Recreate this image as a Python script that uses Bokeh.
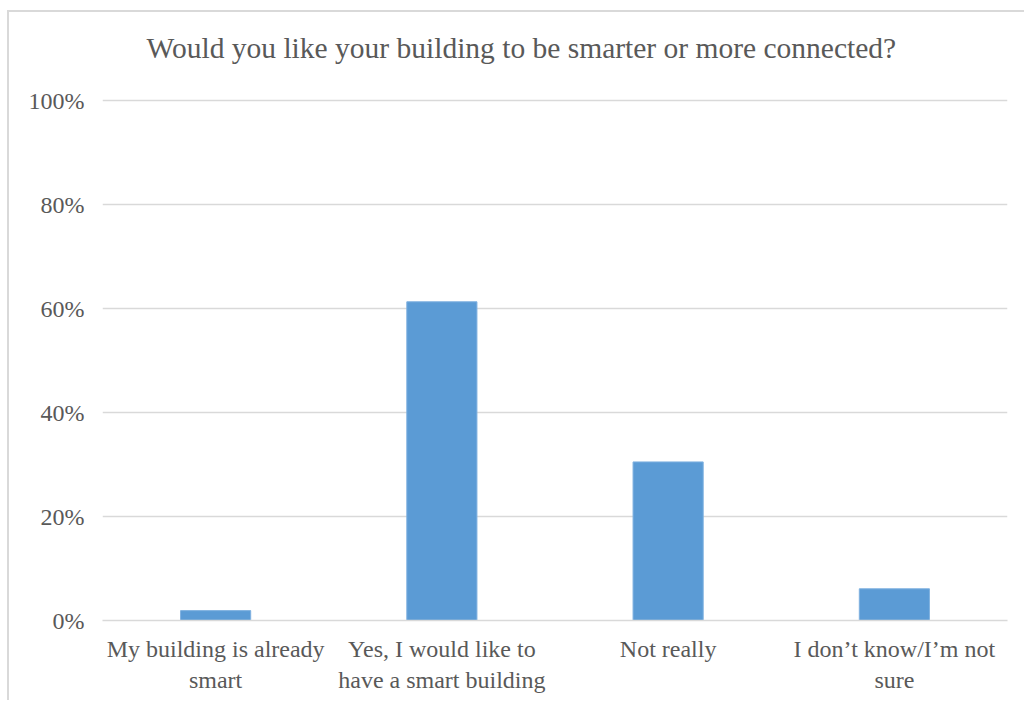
from bokeh.plotting import figure
from bokeh.models import FixedTicker, NumeralTickFormatter, Range1d, Title
from bokeh.embed import file_html
from bokeh.resources import INLINE

categories = ["My building is already\nsmart",
              "Yes, I would like to\nhave a smart building",
              "Not really",
              "I don\u2019t know/I\u2019m not\nsure"]
values = [0.019, 0.613, 0.305, 0.061]
y_ticks = [0.0, 0.2, 0.4, 0.6, 0.8, 1.0]

title_text = "Would you like your building to be smarter or more connected?"
FONT = "Liberation Serif"
GREY = "#595959"

xs = [i + 0.5 for i in range(len(categories))]

p = figure(frame_width=905, frame_height=522, output_backend="svg", toolbar_location=None,
           x_range=Range1d(0, len(categories)), y_range=Range1d(0, 1.004),
           min_border_left=93, min_border_right=17, min_border_top=86,
           min_border_bottom=80, margin=(10, 0, 0, 7))
p.styles = {"border-top": "2px solid #d9d9d9", "border-left": "2px solid #d9d9d9"}

p.vbar(x=xs, top=values, width=0.31, bottom=0, fill_color="#5b9bd5",
       line_color="#7fb1e0", line_width=1)

# thin blank spacer between the frame and the title
spacer = Title(text=" ", text_font_size="2px", standoff=31)
p.add_layout(spacer, "above")

p.title.text = title_text
p.title.text_font = FONT
p.title.text_font_size = "29.5px"
p.title.text_font_style = "normal"
p.title.text_color = GREY
p.title.align = "left"
p.title.offset = 44
p.title.standoff = 0

p.outline_line_color = None
p.background_fill_color = "white"
p.border_fill_color = "white"

p.xgrid.grid_line_color = None
p.ygrid.grid_line_color = "#d9d9d9"
p.ygrid.grid_line_width = 1.3
p.ygrid.ticker = FixedTicker(ticks=y_ticks)

p.yaxis.ticker = FixedTicker(ticks=y_ticks)
p.yaxis.formatter = NumeralTickFormatter(format="0%")
p.yaxis.axis_line_color = None
p.yaxis.major_tick_line_color = None
p.yaxis.minor_tick_line_color = None
p.yaxis.major_label_text_font = FONT
p.yaxis.major_label_text_font_size = "24px"
p.yaxis.major_label_text_color = GREY
p.yaxis.major_label_standoff = 12

p.xaxis.ticker = FixedTicker(ticks=xs)
p.xaxis.major_label_overrides = {x: c for x, c in zip(xs, categories)}
p.xaxis.axis_line_color = "#d9d9d9"
p.xaxis.axis_line_width = 1.5
p.xaxis.major_tick_line_color = None
p.xaxis.minor_tick_line_color = None
p.xaxis.major_label_text_font = FONT
p.xaxis.major_label_text_font_size = "24px"
p.xaxis.major_label_text_color = GREY
p.xaxis.major_label_standoff = 9

open("out.html", "w").write(file_html(p, INLINE))
